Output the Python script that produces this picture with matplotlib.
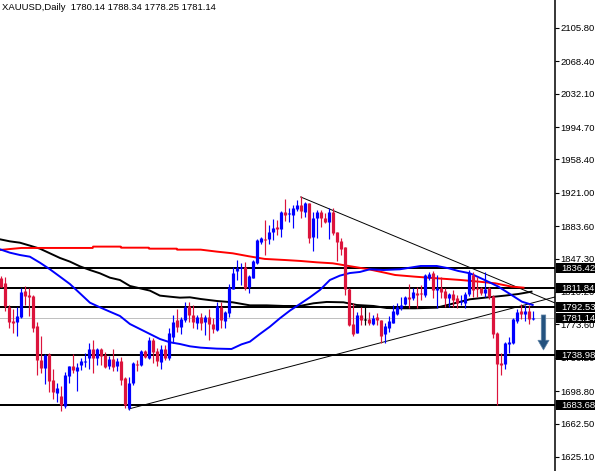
#!/usr/bin/env python3
"""XAUUSD daily candles with moving averages, levels and trend lines."""
import matplotlib
matplotlib.use("Agg")
import matplotlib.pyplot as plt
from matplotlib.patches import Rectangle
from matplotlib.transforms import blended_transform_factory

opens = [
    1825.3, 1819.7, 1793.5, 1777.5, 1776.7, 1781.6, 1811.1, 1806.6, 1805.5, 1771.9,
    1733.8, 1724.4, 1740.5, 1711.4, 1697.2, 1693.8, 1682.2, 1716.2, 1727.0, 1721.5,
    1728.2, 1731.5, 1736.4, 1746.1, 1736.4, 1746.1, 1739.4, 1727.0, 1734.9, 1727.0,
    1732.7, 1713.6, 1679.6, 1707.6, 1729.3, 1727.8, 1743.9, 1736.4, 1756.2, 1743.9,
    1731.9, 1746.1, 1735.6, 1760.0, 1778.6, 1771.1, 1778.6, 1794.3, 1784.2, 1775.6,
    1782.3, 1776.0, 1782.3, 1774.1, 1767.4, 1793.5, 1777.9, 1786.8, 1812.9, 1833.9,
    1836.5, 1837.6, 1815.2, 1826.0, 1842.1, 1866.4, 1869.0, 1869.0, 1877.6, 1883.2,
    1880.2, 1899.2, 1897.0, 1896.2, 1902.6, 1907.4, 1900.0, 1909.3, 1872.0, 1892.5,
    1900.0, 1893.2, 1888.8, 1899.2, 1877.6, 1867.1, 1860.7, 1812.9, 1774.1, 1764.4,
    1784.2, 1779.0, 1779.3, 1774.1, 1781.6, 1778.6, 1762.9, 1770.0, 1775.6, 1785.3,
    1791.7, 1796.1, 1804.4, 1802.9, 1808.5, 1809.2, 1806.6, 1825.3, 1830.9, 1812.2,
    1814.1, 1811.1, 1802.9, 1807.3, 1802.9, 1798.4, 1797.3, 1807.3, 1829.0, 1814.8,
    1814.1, 1809.2, 1814.1, 1805.5, 1764.4, 1730.0, 1729.3, 1751.3, 1752.5, 1777.5,
    1788.7, 1785.3, 1788.7, 1780.14,
]
highs = [
    1827.9, 1826.4, 1795.4, 1790.5, 1793.5, 1814.1, 1816.7, 1814.1, 1806.6, 1776.0,
    1760.7, 1740.5, 1741.2, 1723.3, 1707.6, 1704.6, 1720.7, 1727.0, 1740.5, 1730.8,
    1735.6, 1741.2, 1752.4, 1756.2, 1747.6, 1747.6, 1743.1, 1738.6, 1746.1, 1736.4,
    1737.5, 1715.1, 1714.4, 1731.9, 1733.8, 1745.0, 1745.0, 1760.0, 1758.1, 1746.8,
    1750.6, 1750.6, 1769.2, 1784.2, 1790.5, 1782.3, 1799.1, 1799.1, 1795.4, 1784.2,
    1786.1, 1784.2, 1790.5, 1780.5, 1799.1, 1799.1, 1788.7, 1818.9, 1838.4, 1845.8,
    1842.8, 1844.0, 1829.0, 1845.8, 1869.0, 1872.0, 1890.6, 1885.0, 1891.4, 1890.6,
    1901.1, 1914.2, 1903.7, 1907.4, 1913.0, 1917.5, 1911.2, 1909.3, 1900.0, 1901.8,
    1901.8, 1898.1, 1903.7, 1903.7, 1877.6, 1870.1, 1860.7, 1814.1, 1797.3, 1787.9,
    1793.5, 1792.8, 1787.9, 1784.2, 1786.1, 1778.6, 1774.9, 1783.1, 1795.4, 1797.3,
    1804.7, 1805.1, 1818.6, 1814.1, 1815.9, 1817.8, 1830.1, 1832.7, 1833.5, 1829.0,
    1827.1, 1814.1, 1808.5, 1812.2, 1806.6, 1806.6, 1809.6, 1834.6, 1832.7, 1827.1,
    1815.9, 1832.7, 1815.9, 1806.6, 1765.1, 1741.2, 1754.3, 1759.9, 1780.5, 1790.5,
    1796.5, 1795.4, 1795.4, 1788.34,
]
lows = [
    1815.9, 1789.1, 1769.2, 1764.4, 1761.0, 1780.5, 1795.4, 1783.1, 1765.5, 1717.0,
    1719.6, 1706.9, 1697.6, 1690.1, 1687.1, 1677.0, 1680.4, 1708.4, 1718.8, 1699.4,
    1722.6, 1725.5, 1723.7, 1719.6, 1727.8, 1728.2, 1724.4, 1724.0, 1721.8, 1721.8,
    1705.8, 1679.6, 1677.8, 1705.8, 1721.8, 1727.0, 1736.4, 1734.9, 1730.8, 1727.0,
    1723.7, 1733.8, 1733.8, 1752.4, 1765.5, 1762.9, 1776.4, 1776.7, 1770.0, 1768.5,
    1767.4, 1761.8, 1756.2, 1764.4, 1766.3, 1769.2, 1770.0, 1782.3, 1812.9, 1823.4,
    1817.8, 1812.2, 1809.2, 1825.3, 1841.3, 1863.7, 1851.4, 1863.7, 1868.2, 1873.8,
    1872.0, 1889.9, 1888.8, 1881.3, 1901.1, 1892.5, 1894.4, 1865.2, 1856.3, 1870.1,
    1883.2, 1886.9, 1869.3, 1873.8, 1845.1, 1851.4, 1806.6, 1771.9, 1760.7, 1763.6,
    1773.0, 1773.0, 1773.0, 1773.0, 1773.0, 1752.4, 1753.2, 1765.5, 1774.9, 1784.2,
    1789.8, 1795.4, 1791.7, 1801.0, 1791.7, 1801.0, 1804.7, 1823.4, 1802.9, 1791.7,
    1802.9, 1793.5, 1793.5, 1793.5, 1791.7, 1795.4, 1792.4, 1805.9, 1804.7, 1804.7,
    1806.6, 1804.7, 1802.1, 1758.8, 1683.4, 1717.0, 1723.7, 1741.2, 1751.3, 1775.6,
    1779.3, 1777.8, 1774.1, 1778.25,
]
closes = [
    1815.9, 1794.3, 1776.7, 1775.6, 1783.1, 1810.3, 1805.5, 1804.7, 1770.0, 1733.8,
    1725.2, 1739.8, 1710.6, 1697.9, 1702.4, 1683.4, 1716.6, 1727.0, 1722.6, 1725.9,
    1732.7, 1732.7, 1746.1, 1736.4, 1746.5, 1738.2, 1725.5, 1734.9, 1725.5, 1732.7,
    1711.4, 1683.4, 1707.6, 1730.8, 1728.6, 1743.9, 1737.5, 1756.2, 1743.1, 1732.7,
    1746.1, 1735.6, 1763.6, 1776.0, 1771.1, 1779.7, 1793.5, 1784.2, 1776.7, 1782.3,
    1775.6, 1782.3, 1774.1, 1768.5, 1794.3, 1778.6, 1787.9, 1815.2, 1830.9, 1836.5,
    1837.6, 1814.1, 1827.9, 1844.7, 1868.2, 1870.1, 1868.2, 1877.6, 1882.0, 1880.5,
    1900.0, 1896.2, 1898.1, 1904.5, 1907.4, 1900.7, 1909.3, 1870.1, 1892.5, 1900.0,
    1893.2, 1888.0, 1900.0, 1875.7, 1866.4, 1858.1, 1812.9, 1773.0, 1762.9, 1784.2,
    1778.6, 1779.0, 1775.6, 1780.5, 1778.6, 1761.0, 1771.9, 1777.5, 1788.7, 1793.5,
    1795.4, 1804.0, 1802.1, 1809.6, 1806.6, 1807.3, 1829.0, 1830.1, 1812.2, 1814.1,
    1809.6, 1802.9, 1807.3, 1801.0, 1797.3, 1799.9, 1807.3, 1830.9, 1812.2, 1812.9,
    1809.2, 1812.9, 1804.7, 1762.5, 1729.3, 1728.2, 1753.2, 1754.3, 1779.7, 1788.0,
    1785.3, 1788.7, 1779.3, 1781.14,
]

# moving averages, read at their visible bends (x is the bar number)
red_ma_x = [-0.2, 2.3, 5.2, 23, 23.1, 30, 30.1, 37, 37.1, 44, 44.1, 50, 54, 58, 62, 66, 71, 75, 79,
            83, 87, 92, 96, 98.6, 103.6, 109, 115, 119.4, 123.6, 127.7, 130.7]
red_ma = [1857.0, 1858.1, 1859.3, 1859.3, 1860.8, 1860.8, 1859.6, 1859.6, 1858.5, 1858.5, 1857.4,
          1857.4, 1855.2, 1853.3, 1850.0, 1847.0, 1845.8, 1844.7, 1843.2, 1842.1, 1839.1, 1835.4,
          1831.6, 1829.0, 1827.1, 1825.3, 1823.4, 1821.6, 1819.7, 1816.0, 1814.8]
blue_ma_x = [-0.2, 2.3, 4.8, 7.3, 9.8, 12.3, 14.8, 17.3, 19.8, 22.3, 24.8, 27.3, 29.8, 32.3, 34.8,
             37.3, 39.8, 42.3, 44.8, 47.3, 50, 54, 57.7, 60.2, 62.3, 64.8, 67.3, 69.8, 72.3, 74.8,
             77.3, 79.8, 82.3, 84.8, 87.3, 89.8, 92.3, 95.7, 99.8, 105, 109, 112, 114.4, 117.3,
             121, 124.4, 127.7, 130.3, 133]
blue_ma = [1857.8, 1854.0, 1851.4, 1849.5, 1842.8, 1835.4, 1827.2, 1818.9, 1808.5, 1798.0, 1792.8,
           1787.9, 1783.1, 1774.1, 1768.5, 1762.9, 1757.3, 1753.6, 1751.7, 1749.1, 1747.6, 1746.5,
           1746.1, 1751.3, 1754.3, 1762.9, 1771.1, 1780.5, 1789.1, 1796.5, 1804.0, 1812.2, 1823.4,
           1828.3, 1831.2, 1832.4, 1835.4, 1834.6, 1835.4, 1839.1, 1839.1, 1836.5, 1833.5, 1830.9,
           1823.4, 1816.0, 1806.6, 1799.1, 1795.4]
black_ma_x = [-0.2, 2.3, 4.8, 7.3, 9.8, 12.3, 14.8, 17.3, 19.8, 22.3, 24.8, 27.3, 29.8, 32.3, 34.8,
              37.3, 39.8, 42.3, 44.8, 47.3, 50, 54, 58, 62.3, 66.5, 70.7, 74.8, 78.2, 81.5, 85.7,
              89, 93.2, 96.5, 99.8, 103.6, 109, 114.4, 117.3, 121.9, 126.1, 129.4, 132.7]
black_ma = [1869.0, 1866.7, 1865.2, 1861.9, 1858.5, 1853.3, 1848.1, 1844.0, 1838.7, 1834.6, 1830.9,
            1826.0, 1823.4, 1816.7, 1814.1, 1811.5, 1805.9, 1804.7, 1803.6, 1804.0, 1802.1, 1799.9,
            1798.4, 1795.0, 1795.0, 1794.3, 1794.3, 1797.3, 1798.8, 1798.4, 1795.4, 1794.3, 1792.0,
            1791.7, 1791.7, 1792.4, 1798.4, 1801.8, 1804.0, 1805.9, 1807.7, 1810.3]

level_prices = [1836.42, 1814.0, 1793.4, 1738.98, 1683.68]
level_labels = ["1836.42", "1811.84", "1792.53", "1738.98", "1683.68"]
last_price = 1781.14
tick_prices = [2105.80, 2068.40, 2032.10, 1994.70, 1958.40, 1921.00, 1883.60, 1847.30, 1810.20,
               1773.60, 1736.20, 1698.80, 1662.50, 1625.10]

upper_trend_x = [75, 138.6]
upper_trend = [1916.4, 1797.6]
lower_trend_x = [32, 138.6]
lower_trend = [1678.9, 1804.4]

FONT = "Liberation Sans"
FS = 6.8
W, H = 595, 471

fig = plt.figure(figsize=(W / 100, H / 100), dpi=100, facecolor="white")
ax = fig.add_axes([0, 0, 555 / W, 1])
ax.set_xlim(-0.175, 138.575)
ax.set_ylim(1609.4, 2137.1)

for name in ("left", "top", "bottom"):
    ax.spines[name].set_visible(False)
ax.spines["right"].set_linewidth(1.1)
ax.set_xticks([])
ax.yaxis.tick_right()
ax.set_yticks(tick_prices)
ax.set_yticklabels([f"{p:.2f}" for p in tick_prices], fontfamily=FONT, fontsize=FS)
ax.tick_params(axis="y", length=3, width=0.8, pad=1.0)

for price in level_prices:
    ax.axhline(price, color="black", linewidth=1.44, zorder=2, snap=True)
ax.axhline(last_price, color="#c0c0c0", linewidth=0.72, zorder=1, snap=True)

ax.plot(upper_trend_x, upper_trend, color="black", linewidth=0.7, zorder=2)
ax.plot(lower_trend_x, lower_trend, color="black", linewidth=0.7, zorder=2)

ax.plot(black_ma_x, black_ma, color="black", linewidth=1.4, zorder=3)
ax.plot(red_ma_x, red_ma, color="#ff0000", linewidth=1.4, zorder=3)
ax.plot(blue_ma_x, blue_ma, color="#0000ff", linewidth=1.4, zorder=3)

for i, (o, h, l, c) in enumerate(zip(opens, highs, lows, closes)):
    color = "black" if o == c else ("#0000ff" if c > o else "#dc143c")
    ax.vlines(i, l, h, color=color, linewidth=0.85, zorder=4, snap=True)
    ax.vlines(i, min(o, c), max(max(o, c), min(o, c) + 0.8), color=color, linewidth=2.3,
              capstyle="butt", zorder=4, snap=True)

# forecast arrow
ax.annotate("", xy=(135.7, 1745.0), xytext=(135.7, 1784.2), zorder=5,
            arrowprops=dict(facecolor="#24527f", edgecolor="#5f83a6", linewidth=0.5,
                            width=3.2, headwidth=8, headlength=7, shrink=0))

# level tags on the price axis, drawn over the plain tick labels
tag_tr = blended_transform_factory(fig.transFigure, ax.transData)
for price, label in zip(level_prices + [last_price], level_labels + [f"{last_price:.2f}"]):
    ax.add_patch(Rectangle((556 / W, price - 5.6), 39 / W, 11.2, transform=tag_tr,
                           facecolor="black", edgecolor="none", clip_on=False, zorder=6))
    ax.text(561 / W, price - 0.4, label, transform=tag_tr, color="white", va="center", ha="left",
            fontfamily=FONT, fontsize=FS, clip_on=False, zorder=7)

fig.text(2 / W, 1 - 8 / H, "XAUUSD,Daily  1780.14 1788.34 1778.25 1781.14", va="center", ha="left",
         fontfamily=FONT, fontsize=6.8, color="black")

fig.savefig("out.png", dpi=100)
plt.close(fig)
